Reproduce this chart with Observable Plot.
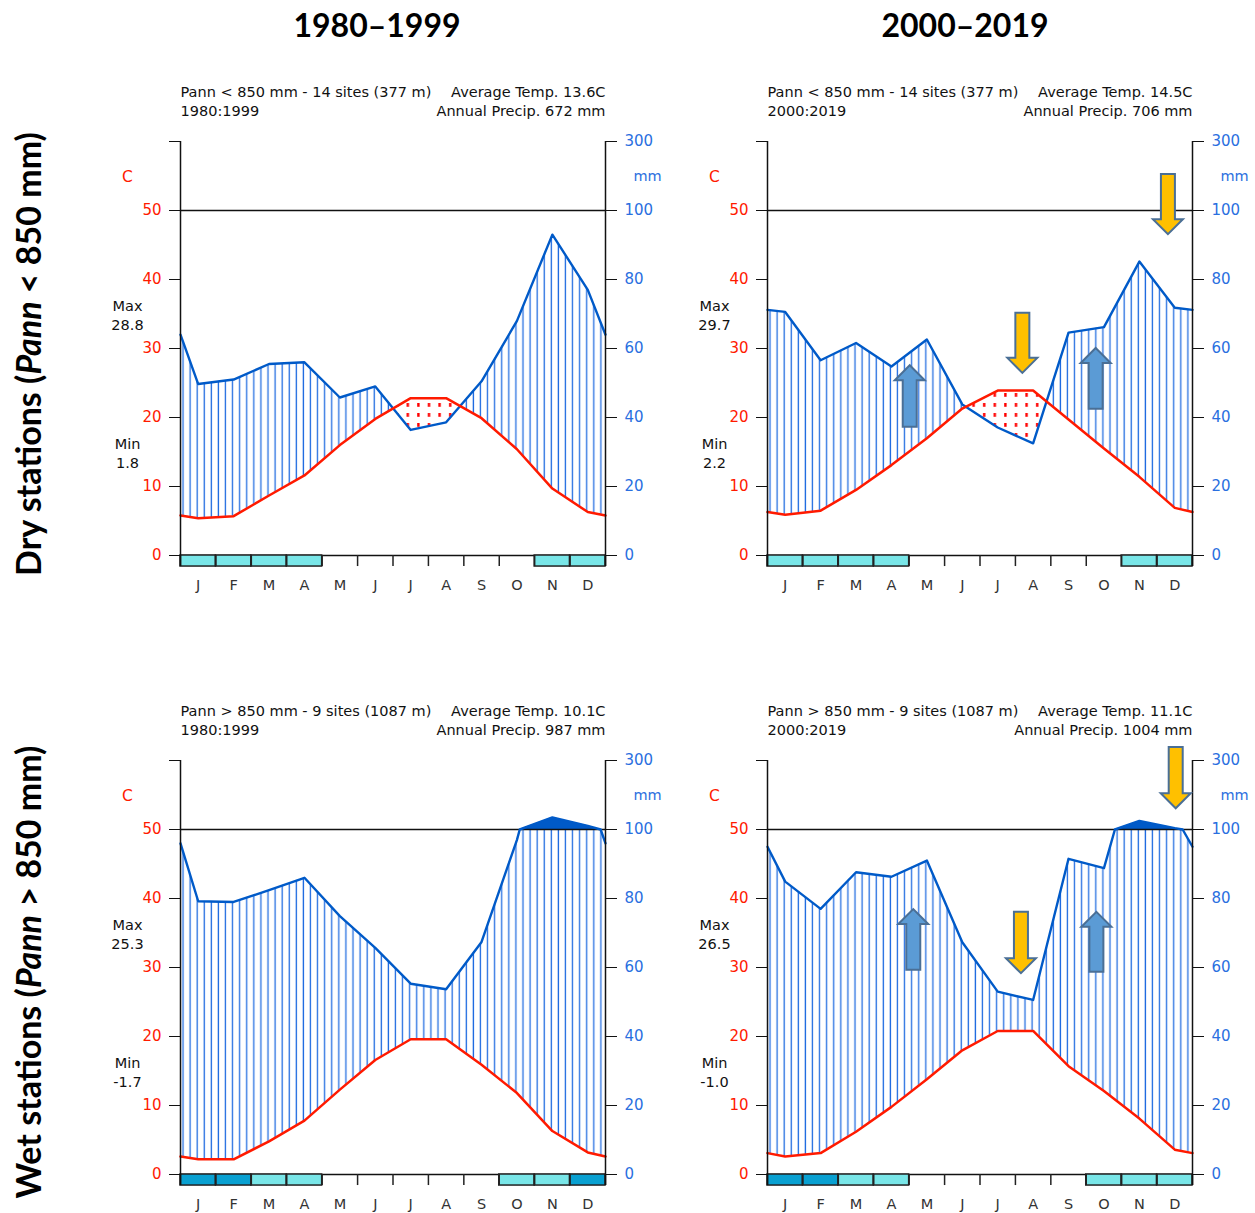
<!DOCTYPE html>
<html><head><meta charset="utf-8">
<script src="https://cdn.jsdelivr.net/npm/d3@7"></script>
<script src="https://cdn.jsdelivr.net/npm/@observablehq/plot@0.6"></script>
<style>
body{margin:0;background:#fff;}
#page{position:relative;width:1255px;height:1213px;overflow:hidden;background:#fff;}
.ttl{position:absolute;font-family:Lato,sans-serif;font-weight:700;font-size:32px;color:#000;white-space:nowrap;transform:translate(-50%,-50%);}
.row{position:absolute;font-family:Lato,sans-serif;font-weight:700;font-size:34px;color:#000;white-space:nowrap;transform:translate(-50%,-50%) rotate(-90deg);}
.panel{position:absolute;}
</style></head>
<body><div id="page">
<svg width="0" height="0" style="position:absolute"><defs>
<pattern id="hatch" patternUnits="userSpaceOnUse" x="80" y="0" width="7.083" height="10"><line x1="3" y1="-1" x2="3" y2="11" stroke="#1f6be0" stroke-width="1.3"/></pattern>
<pattern id="dots" patternUnits="userSpaceOnUse" x="80" y="0" width="10.6" height="10"><rect x="4" y="3" width="2.4" height="3.8" fill="#ff0000"/></pattern>
</defs></svg>
<div class="ttl" style="left:377px;top:24px">1980–1999</div>
<div class="ttl" style="left:965px;top:24px">2000–2019</div>
<div class="row" style="left:27px;top:354px">Dry stations (<i>Pann</i> &lt; 850 mm)</div>
<div class="row" style="left:27px;top:972px">Wet stations (<i>Pann</i> &gt; 850 mm)</div>
</div>
<script>
// ---------- data ----------
const months = ["J","F","M","A","M","J","J","A","S","O","N","D"];
const leftTicks = [0,10,20,30,40,50,60];
const rightTickLabels = ["0","20","40","60","80","100","300"];

// mean monthly temperature (C)
const tempDry1980 = [5.4, 5.7, 8.7, 11.6, 16.0, 19.8, 22.8, 22.8, 19.9, 15.4, 9.7, 6.3];
const tempDry2000 = [5.9, 6.5, 9.5, 13.1, 17.0, 21.3, 23.9, 23.9, 19.7, 15.5, 11.4, 6.9];
const tempWet1980 = [2.2, 2.2, 4.8, 7.8, 12.3, 16.6, 19.6, 19.6, 15.9, 11.8, 6.3, 3.2];
const tempWet2000 = [2.6, 3.1, 6.2, 9.8, 13.8, 18.0, 20.8, 20.8, 15.7, 12.1, 8.1, 3.6];
// monthly precipitation (mm)
const precipDry1980 = [49.7, 51, 55.5, 56, 45.8, 49, 36.4, 38.6, 50.5, 68, 93, 77];
const precipDry2000 = [70.6, 56.6, 61.6, 54.8, 62.6, 43.8, 37.1, 32.5, 64.6, 66.2, 85.2, 71.8];
const precipWet1980 = [79.2, 79, 82.4, 86, 74.9, 65.7, 55.3, 53.7, 67.4, 97, 135, 110.6];
const precipWet2000 = [84.9, 77, 87.6, 86.3, 91, 67.3, 53, 50.6, 91.5, 88.8, 125, 104];
// values at the year boundary (left / right edge of each diagram)
const edgeTemp = [5.8, 6.3, 2.6, 3.1];
const edgePrecip = [64, 71.2, 96, 95];
// frost: "s" = sure frost, "p" = probable frost, "" = none
const frostDry1980 = ["p","p","p","p","","","","","","","p","p"];
const frostDry2000 = ["p","p","p","p","","","","","","","p","p"];
const frostWet1980 = ["s","s","p","p","","","","","","p","p","s"];
const frostWet2000 = ["s","s","p","p","","","","","","p","p","p"];
// header texts
const groupLabels = ["Pann < 850 mm - 14 sites (377 m)","Pann < 850 mm - 14 sites (377 m)","Pann > 850 mm - 9 sites (1087 m)","Pann > 850 mm - 9 sites (1087 m)"];
const periodLabels = ["1980:1999","2000:2019","1980:1999","2000:2019"];
const avgTemps = ["13.6","14.5","10.1","11.1"];
const annualPrecips = ["672","706","987","1004"];
const maxTemps = ["28.8","29.7","25.3","26.5"];
const minTemps = ["1.8","2.2","-1.7","-1.0"];
// change arrows (month position, from value, to value in C units)
const arrowsDry2000 = [{month:11.32, from:55.2, to:46.5},{month:7.21, from:35.1, to:26.4},{month:4.03, from:18.6, to:27.5},{month:9.28, from:21.2, to:30.0}];
const arrowsWet2000 = [{month:11.54, from:61.9, to:53.0},{month:7.17, from:38.0, to:29.1},{month:4.13, from:29.6, to:38.4},{month:9.30, from:29.3, to:38.0}];

// ---------- drawing ----------
const RED = "#ff1a00", BLUE = "#005ac8", LBLUE = "#2a6fe0";
const W = 600, H = 560, ML = 80, MR = 95, MT = 81, MB = 65;
const Y_BREAK = MT + (H - MT - MB) * (60 - 50) / 60; // pixel of 50 C / 100 mm

// Walter-Lieth precipitation scale: 2 mm per C up to 100 mm, 20 mm per C above
const pY = p => p <= 100 ? p / 2 : 50 + (p - 100) / 20;

// linear curve that interpolates in mm space across the 100 mm scale break
function brokenScaleCurve(yBreak, k) {
  return (context) => {
    const inner = d3.curveLinear(context);
    let first = true, px = 0, py = 0;
    const lin = y => (y < yBreak ? yBreak - (yBreak - y) * k : y);
    const above = y => y < yBreak - 1e-6;
    return {
      areaStart() { inner.areaStart(); },
      areaEnd() { inner.areaEnd(); },
      lineStart() { first = true; inner.lineStart(); },
      lineEnd() { inner.lineEnd(); },
      point(x, y) {
        x = +x; y = +y;
        if (!first && above(py) !== above(y)) {
          const a = lin(py), b = lin(y);
          if (b !== a) { const t = (yBreak - a) / (b - a); inner.point(px + t * (x - px), yBreak); }
        }
        first = false; px = x; py = y;
        inner.point(x, y);
      }
    };
  };
}
const curve = brokenScaleCurve(Y_BREAK, 10);

function arrowMark(list) {
  return (index, scales) => {
    const g = d3.create("svg:g");
    for (const a of list) {
      const cx = scales.x(a.month), y0 = scales.y(a.from), y1 = scales.y(a.to);
      const dir = Math.sign(y1 - y0);
      const sw = 7, hw = 15, hl = 15, yn = y1 - dir * hl;
      const pts = [[cx - sw, y0],[cx + sw, y0],[cx + sw, yn],[cx + hw, yn],[cx, y1],[cx - hw, yn],[cx - sw, yn]];
      g.append("path").attr("d", "M" + pts.join("L") + "Z")
        .attr("fill", dir > 0 ? "#ffc000" : "#5b9bd5")
        .attr("stroke", "#4a6f96").attr("stroke-width", 2);
    }
    return g.node();
  };
}

function drawPanel(k, temp, precip, frost, arrows, left, top) {
  const rows = [{x: 0, t: edgeTemp[k], p: edgePrecip[k]}]
    .concat(temp.map((t, j) => ({x: j + 0.5, t, p: precip[j]})))
    .concat([{x: 12, t: edgeTemp[k], p: edgePrecip[k]}]);
  const frostRows = frost.map((f, j) => ({j, f}));
  const bounds = d3.range(13);
  const marks = [
    Plot.differenceY(rows, {x: "x", y1: "t", y2: d => pY(d.p), positiveFill: "url(#hatch)", negativeFill: "url(#dots)", stroke: "none", curve}),
    Plot.differenceY(rows, {x: "x", y1: () => 50, y2: d => pY(d.p), positiveFill: BLUE, negativeFill: "none", stroke: "none", curve}),
    Plot.ruleY([0, 50], {stroke: "#111", strokeWidth: 1.4}),
    Plot.rect(frostRows.filter(d => d.f === "p"), {x1: d => d.j, x2: d => d.j + 1, y1: 0, y2: -1.6, fill: "#79e6e8", stroke: "#222", strokeWidth: 1.5}),
    Plot.rect(frostRows.filter(d => d.f === "s"), {x1: d => d.j, x2: d => d.j + 1, y1: 0, y2: -1.6, fill: "#09a0d1", stroke: "#222", strokeWidth: 1.5}),
    Plot.ruleX(bounds, {x: d => d, y1: 0, y2: -1.6, stroke: "#222", strokeWidth: 1.5}),
    Plot.line(rows, {x: "x", y: d => pY(d.p), stroke: BLUE, strokeWidth: 2.4, curve}),
    Plot.line(rows, {x: "x", y: "t", stroke: RED, strokeWidth: 2.5}),
    Plot.ruleX([0, 12], {y1: -1.6, y2: 60, stroke: "#111", strokeWidth: 1.5}),
    Plot.axisY({anchor: "left", ticks: leftTicks, tickFormat: d => d === 60 ? "" : String(d), tickSize: 11, tickPadding: 8, stroke: "#111", fill: RED, fontSize: 15, label: null}),
    Plot.axisY({anchor: "right", ticks: leftTicks, tickFormat: d => rightTickLabels[d / 10], tickSize: 11, tickPadding: 8, stroke: "#111", fill: LBLUE, fontSize: 15, label: null}),
    Plot.text(months, {x: (d, i) => i + 0.5, y: -4.35, text: d => d, fill: "#333", fontSize: 14.5}),
    Plot.text([groupLabels[k]], {frameAnchor: "top-left", dy: -49, text: d => d, textAnchor: "start", lineAnchor: "middle", fill: "#111"}),
    Plot.text([periodLabels[k]], {frameAnchor: "top-left", dy: -30, text: d => d, textAnchor: "start", lineAnchor: "middle", fill: "#111"}),
    Plot.text(["Average Temp. " + avgTemps[k] + "C"], {frameAnchor: "top-right", dy: -49, text: d => d, textAnchor: "end", lineAnchor: "middle", fill: "#111"}),
    Plot.text(["Annual Precip. " + annualPrecips[k] + " mm"], {frameAnchor: "top-right", dy: -30, text: d => d, textAnchor: "end", lineAnchor: "middle", fill: "#111"}),
    Plot.text(["C"], {x: 0, y: 54.9, dx: -53, text: d => d, fill: RED, fontSize: 15.5}),
    Plot.text(["mm"], {x: 12, y: 54.9, dx: 42, text: d => d, fill: LBLUE}),
    Plot.text(["Max\n" + maxTemps[k]], {x: 0, y: 34.9, dx: -53, text: d => d, lineHeight: 1.25, fill: "#111"}),
    Plot.text(["Min\n" + minTemps[k]], {x: 0, y: 14.9, dx: -53, text: d => d, lineHeight: 1.25, fill: "#111"}),
    arrowMark(arrows)
  ];
  const svg = Plot.plot({
    width: W, height: H, marginLeft: ML, marginRight: MR, marginTop: MT, marginBottom: MB,
    x: {domain: [0, 12], axis: null},
    y: {domain: [0, 60], axis: null},
    style: {fontFamily: "'DejaVu Sans', sans-serif", fontSize: "14.5px", background: "transparent", overflow: "visible"},
    marks
  });
  svg.classList.add("panel");
  svg.style.left = left + "px";
  svg.style.top = top + "px";
  document.getElementById("page").appendChild(svg);
}

drawPanel(0, tempDry1980, precipDry1980, frostDry1980, [], 100, 60);
drawPanel(1, tempDry2000, precipDry2000, frostDry2000, arrowsDry2000, 687, 60);
drawPanel(2, tempWet1980, precipWet1980, frostWet1980, [], 100, 679);
drawPanel(3, tempWet2000, precipWet2000, frostWet2000, arrowsWet2000, 687, 679);
</script>
</body></html>
